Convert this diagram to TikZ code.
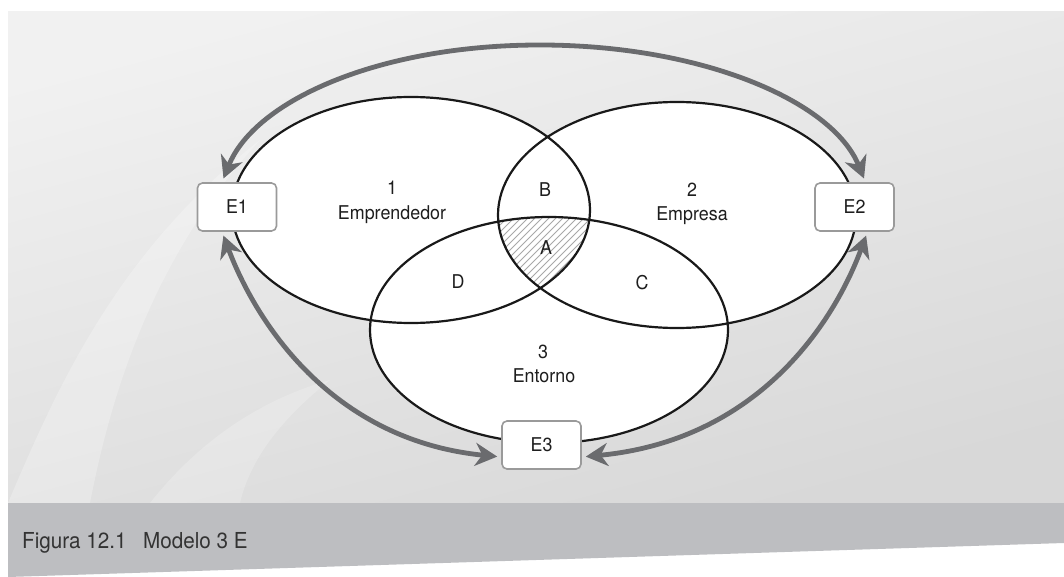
\documentclass[tikz,border=0pt]{standalone}
\usepackage{fontspec}
\setmainfont{TeX Gyre Heros}[FakeStretch=0.94]
\usetikzlibrary{arrows.meta}
\definecolor{bgtop}{HTML}{F1F1F1}
\definecolor{bgbot}{HTML}{D8D8D8}
\definecolor{bandc}{HTML}{BDBEC1}
\definecolor{arrc}{HTML}{6A6B6E}
\definecolor{boxc}{HTML}{9A9A9A}
\definecolor{hatchc}{HTML}{A8A8A8}
\definecolor{txtc}{HTML}{1E1E1E}
\definecolor{capc}{HTML}{333333}
\tikzset{
  lbl/.style={inner sep=0pt, anchor=base, text=txtc, font=\fontsize{19}{22}\selectfont},
  ebox/.style={draw=boxc, line width=1.6pt, fill=white, rounded corners=5pt,
    minimum width=79pt, minimum height=48pt, inner sep=0pt, text=txtc,
    font=\fontsize{19}{22}\selectfont},
  arr/.style={draw=arrc, line width=4.8pt,
    {Stealth[length=22pt,width=23pt,inset=7pt]}-{Stealth[length=22pt,width=23pt,inset=7pt]},
    shorten <=4pt, shorten >=4pt},
  ell/.style={draw=black!90, line width=2.2pt},
  hatch/.style={draw=hatchc, line width=1pt}
}
\begin{document}
\begin{tikzpicture}[x=1pt,y=-1pt]
\useasboundingbox (0,0) rectangle (1064,577);
\fill[white] (0,0) rectangle (1064,577);
% background
\shade[top color=bgtop, bottom color=bgbot, shading angle=15] (8,12) rectangle (1064,503);
\begin{scope}
  \clip (8,12) rectangle (1064,503);
  \fill[white, opacity=0.25] (8,503) .. controls (60,380) and (120,250) .. (260,140)
    .. controls (150,260) and (110,400) .. (90,503) -- cycle;
  \fill[white, opacity=0.2] (150,503) .. controls (200,440) and (260,400) .. (330,380)
    .. controls (280,420) and (250,460) .. (240,503) -- cycle;
\end{scope}
\fill[bandc] (8,503) -- (1064,503) -- (1064,543) -- (8,577) -- cycle;
\node[anchor=base west, inner sep=0pt, text=capc, font=\fontsize{22}{26}\selectfont] (cap) at (22,548) {Figura 12.1\hspace{0.75em}Modelo 3 E};
% ellipses fill
\fill[white] (411,210) ellipse [x radius=179, y radius=113];
\fill[white] (677,215) ellipse [x radius=179, y radius=113];
\fill[white] (549,330) ellipse [x radius=179, y radius=113];
% hatch A
\begin{scope}
  \clip (411,210) ellipse [x radius=179, y radius=113];
  \clip (677,215) ellipse [x radius=179, y radius=113];
  \clip (549,330) ellipse [x radius=179, y radius=113];
  \foreach \i in {380,387,...,660} { \draw[hatch] (\i,310) -- (\i+130,180); }
\end{scope}
% ellipse outlines
\draw[ell] (411,210) ellipse [x radius=179, y radius=113];
\draw[ell] (677,215) ellipse [x radius=179, y radius=113];
\draw[ell] (549,330) ellipse [x radius=179, y radius=113];
% boxes
\node[ebox] (E1) at (237,207) {E1};
\node[ebox] (E2) at (854.5,207) {E2};
\node[ebox] (E3) at (541.5,445) {E3};
% arrows
\draw[arr] ([xshift=-15pt]E1.north) .. controls (255,100) and (380,45) .. (540,45)
  .. controls (700,45) and (832,100) .. ([xshift=11pt]E2.north);
\draw[arr] ([xshift=-15pt]E1.south) .. controls (255,320) and (330,440) .. ([yshift=-12pt]E3.west);
\draw[arr] ([xshift=13pt]E2.south) .. controls (835,320) and (760,440) .. ([yshift=-12pt]E3.east);
% labels
\node[lbl] (n1) at (392,195) {1};
\node[lbl] (t1) at (392,220) {Emprendedor};
\node[lbl] (n2) at (692,197) {2};
\node[lbl] (t2) at (692,221) {Empresa};
\node[lbl] (n3) at (543,358) {3};
\node[lbl] (t3) at (544,382) {Entorno};
\node[lbl] (lA) at (546,254) {A};
\node[lbl] (lB) at (545,197) {B};
\node[lbl] (lC) at (642,289) {C};
\node[lbl] (lD) at (458,288) {D};
\end{tikzpicture}
\end{document}
